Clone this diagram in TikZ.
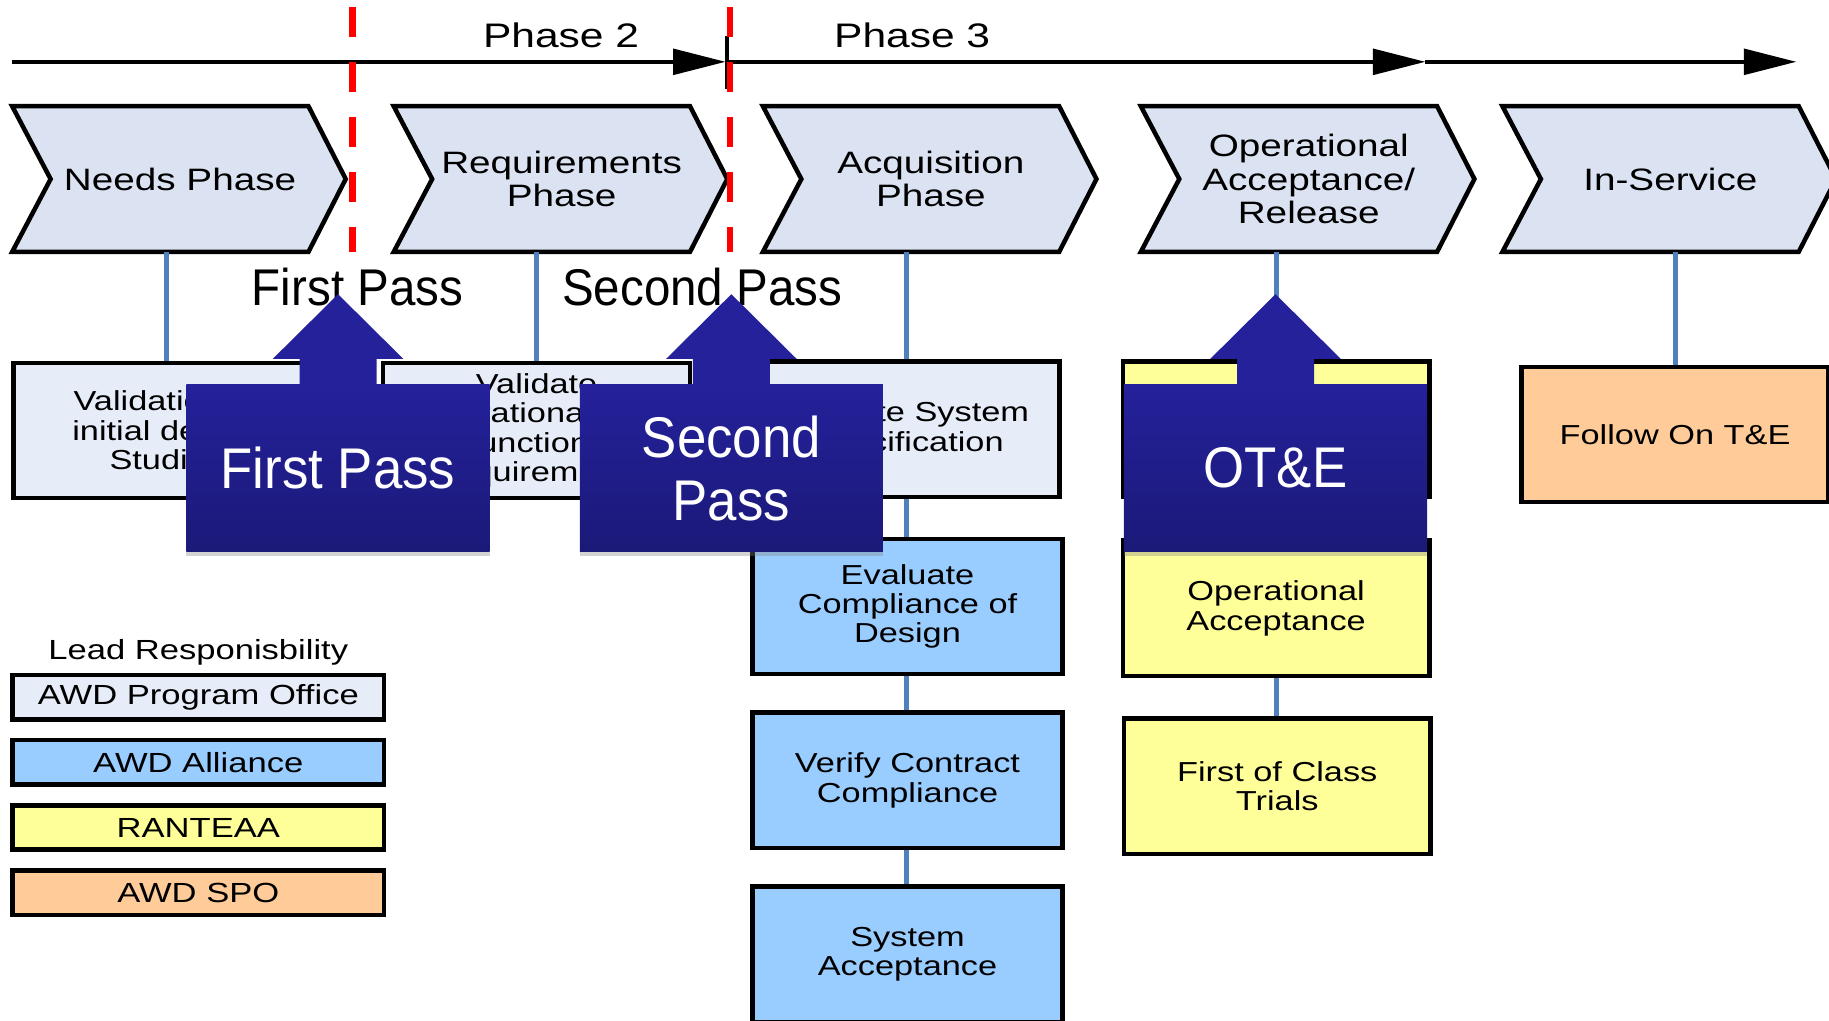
\documentclass[tikz,border=0pt]{standalone}
\usepackage{fontspec}
\setmainfont{Liberation Sans}[FakeStretch=1.25]
\newfontfamily\passfont{Liberation Sans}[FakeStretch=0.92]
\usetikzlibrary{positioning,arrows.meta,shadows}
\definecolor{chevfill}{RGB}{219,226,242}
\definecolor{pofill}{RGB}{231,237,248}
\definecolor{allfill}{RGB}{153,204,255}
\definecolor{ranfill}{RGB}{255,255,153}
\definecolor{spofill}{RGB}{255,204,153}
\definecolor{linkblue}{RGB}{79,129,189}
\definecolor{calltop}{RGB}{36,33,155}
\definecolor{callbot}{RGB}{27,25,120}
\tikzset{
  chevron/.style={draw=black,line width=2.2pt,fill=chevfill,line join=miter},
  chevtext/.style={inner sep=0pt,minimum height=2.5cm,align=center,font=\fontsize{15.1}{16.2}\selectfont},
  stage/.style={draw=black,line width=2.2pt,minimum width=5.26cm,minimum height=2.32cm,align=center,inner sep=0pt,font=\fontsize{13.4}{14.3}\selectfont},
  link/.style={draw=linkblue,line width=2.4pt},
  legend/.style={draw=black,line width=2.2pt,minimum width=6.37cm,minimum height=0.76cm,inner sep=0pt,font=\fontsize{13.5}{14}\selectfont},
  passbox/.style={top color=calltop,bottom color=callbot,minimum width=5.2cm,minimum height=2.87cm,inner sep=0pt,text=white,align=center,font=\passfont\fontsize{28}{30.7}\selectfont,drop shadow={shadow xshift=0pt,shadow yshift=-2pt,opacity=0.35}},
  passarrow/.style={fill=calltop},
  passlabel/.style={font=\passfont\fontsize{25.2}{27}\selectfont,anchor=base},
  phase/.style={font=\fontsize{16.6}{18}\selectfont},
  tline/.style={line width=1.8pt},
  reddash/.style={draw=red,line width=3.2pt,dash pattern=on 14.8pt off 12pt}
}
\begin{document}
\begin{tikzpicture}[x=0.02cm,y=-0.02cm,>={Triangle[length=25.6pt,width=12.5pt]}]
	\useasboundingbox (0,0) rectangle (1568,875);
	\def\chev#1#2#3{%
		\draw[chevron] (#2,91) -- ++(254,0) -- ++(32,62.5) -- ++(-32,62.5) -- ++(-254,0) -- ++(33,-62.5) -- cycle;
		\node[chevtext] (#1) at (#2+144,153.5) {#3};}
	% time line
	\coordinate (t0) at (10,53);
	\coordinate (t1) at (622,53);
	\coordinate (t2) at (1222,53);
	\coordinate (t3) at (1540,53);
	\draw[tline,->] (t0) -- (t1);
	\draw[tline,->] (t1) -- (t2);
	\draw[tline,->] (t2) -- (t3);
	\draw[tline] (623,31) -- (623,76);
	\node[phase] (ph2) at (481,30) {Phase 2};
	\node[phase] (ph3) at (782,30) {Phase 3};
	% phases
	\chev{needs}{10.4}{Needs Phase}
	\chev{reqs}{337.5}{Requirements\\Phase}
	\chev{acq}{654}{Acquisition\\Phase}
	\chev{opacc}{978}{Operational\\Acceptance/\\Release}
	\chev{inserv}{1288}{In-Service}
	\draw[reddash] (302,6) -- (302,216);
	\draw[reddash] (626,6) -- (626,216);
	% activities
	\node[stage,fill=pofill] (valid) at (143,369) {Validation of\\initial design\\Studies};
	\node[stage,fill=pofill] (voper) at (460,369) {Validate\\Operational and\\Functional\\Requirements};
	\node[stage,fill=pofill] (vspec) at (777,368) {Validate System\\Specification};
	\node[stage,fill=ranfill] (ranbox) at (1094,368) {};
	\node[stage,fill=spofill] (follow) at (1436,372.5) {Follow On T\&E};
	\node[stage,fill=allfill,minimum width=5.32cm] (evalc) at (778,520) {Evaluate\\Compliance of\\Design};
	\node[stage,fill=allfill,minimum width=5.32cm] (verify) at (778,669) {Verify Contract\\Compliance};
	\node[stage,fill=allfill,minimum width=5.32cm] (sysacc) at (778,818) {System\\Acceptance};
	\node[stage,fill=ranfill] (opaccbox) at (1094,521.5) {Operational\\Acceptance};
	\node[stage,fill=ranfill] (foct) at (1095,674) {First of Class\\Trials};
	\draw[link] (valid.north) -- (valid.north |- needs.south);
	\draw[link] (voper.north) -- (voper.north |- reqs.south);
	\draw[link] (vspec.north) -- (vspec.north |- acq.south);
	\draw[link] (ranbox.north) -- (ranbox.north |- opacc.south);
	\draw[link] (follow.north) -- (follow.north |- inserv.south);
	\draw[link] (vspec.south) -- (evalc.north -| vspec.south);
	\draw[link] (evalc.south -| vspec.south) -- (verify.north -| vspec.south);
	\draw[link] (verify.south -| vspec.south) -- (sysacc.north -| vspec.south);
	\draw[link] (ranbox.south) -- (opaccbox.north);
	\draw[link] (opaccbox.south) -- (foct.north -| opaccbox.south);
	% legend
	\node[font=\fontsize{13.5}{14}\selectfont] (leadtitle) at (170,559) {Lead Responisbility};
	\node[legend,fill=pofill] (lgpo) at (170,597.7) {AWD Program Office};
	\node[legend,fill=allfill,below=0.28cm of lgpo] (lgall) {AWD Alliance};
	\node[legend,fill=ranfill,below=0.28cm of lgall] (lgran) {RANTEAA};
	\node[legend,fill=spofill,below=0.28cm of lgran] (lgspo) {AWD SPO};
	% passes
	\node[passlabel] (fplabel) at (306.5,262) {First Pass};
	\node[passlabel] (splabel) at (602,262) {Second Pass};
	\node[passbox] (fpbox) at (289.8,401.3) {First Pass};
	\fill[passarrow] (fpbox.north) ++(-33,1) -- ++(0,-22.5) -- ++(-23,0) -- ++(56,-55.5) -- ++(56,55.5) -- ++(-23,0) -- ++(0,22.5) -- cycle;
	\node[passbox] (spbox) at (627,401.3) {Second\\Pass};
	\fill[passarrow] (spbox.north) ++(-33,1) -- ++(0,-22.5) -- ++(-23,0) -- ++(56,-55.5) -- ++(56,55.5) -- ++(-23,0) -- ++(0,22.5) -- cycle;
	\node[passbox] (otbox) at (1093.5,401.3) {OT\&E};
	\fill[passarrow] (otbox.north) ++(-33,1) -- ++(0,-22.5) -- ++(-23,0) -- ++(56,-55.5) -- ++(56,55.5) -- ++(-23,0) -- ++(0,22.5) -- cycle;
\end{tikzpicture}
\end{document}
